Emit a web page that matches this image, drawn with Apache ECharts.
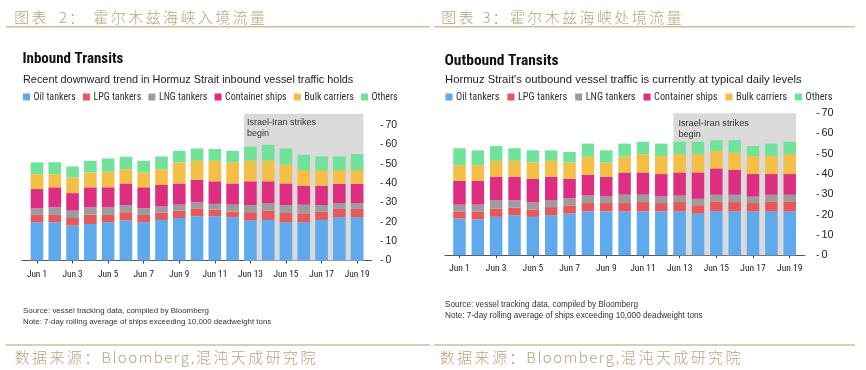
<!DOCTYPE html>
<html><head><meta charset="utf-8">
<script src="https://cdn.jsdelivr.net/npm/echarts@6/dist/echarts.min.js"></script>
<style>html,body{margin:0;padding:0;background:#fff}#c{width:866px;height:370px}</style>
</head><body><div id="c"></div>
<script>
const days = ['Jun 1','Jun 2','Jun 3','Jun 4','Jun 5','Jun 6','Jun 7','Jun 8','Jun 9','Jun 10',
              'Jun 11','Jun 12','Jun 13','Jun 14','Jun 15','Jun 16','Jun 17','Jun 18','Jun 19'];
const seriesNames = ['Oil tankers','LPG tankers','LNG tankers','Container ships','Bulk carriers','Others'];
const yTicks = [0,10,20,30,40,50,60,70];
const inOil       = [19.8,19.8,18.1,18.9,19.8,20.7,19.8,21.0,22.0,22.9,22.9,22.4,20.7,21.0,19.8,19.8,21.0,22.4,22.4];
const inLPG       = [3.8,3.8,3.9,4.9,3.8,4.3,3.8,3.8,3.8,4.1,3.4,2.9,4.3,4.8,4.8,4.6,4.3,4.3,4.3];
const inLNG       = [3.4,3.9,3.8,3.7,3.9,3.7,3.4,3.1,3.1,3.1,3.0,3.6,3.7,3.8,4.1,4.5,3.4,2.9,2.9];
const inContainer = [10.0,10.4,9.1,10.4,10.4,11.2,10.9,11.2,11.0,11.7,11.7,11.0,12.3,11.4,11.2,9.8,10.0,10.0,10.0];
const inBulk      = [7.7,6.8,8.1,7.7,8.1,7.4,7.7,8.2,10.9,9.8,10.6,10.9,10.6,10.6,9.7,8.1,8.1,7.2,7.2];
const inOthers    = [6.1,6.2,5.7,6.0,6.8,6.4,6.0,6.6,6.0,6.4,6.1,6.0,7.4,8.3,8.4,7.9,7.1,7.1,8.3];
const outOil       = [18.0,17.7,18.9,19.7,18.9,19.7,20.5,21.6,21.6,21.6,21.6,21.6,21.6,20.5,21.6,21.6,21.6,21.6,21.6];
const outLPG       = [3.6,3.9,4.0,3.7,3.5,4.0,4.1,4.1,4.1,4.1,4.6,4.1,4.6,4.1,4.9,4.6,4.1,4.9,4.9];
const outLNG       = [3.3,3.3,4.1,3.6,3.6,3.3,3.5,3.7,3.2,4.1,3.6,3.2,3.2,3.2,3.3,3.6,3.2,3.3,3.3];
const outContainer = [11.8,11.8,11.7,11.7,11.6,11.7,9.5,10.3,9.8,11.0,11.0,11.1,11.4,13.0,13.0,12.2,11.1,10.2,10.2];
const outBulk      = [7.7,7.7,7.8,7.8,8.1,7.8,8.1,8.8,7.0,7.8,9.0,8.9,9.0,9.0,8.6,8.6,8.9,8.9,9.8];
const outOthers    = [8.3,7.3,7.3,6.2,6.0,5.2,5.2,6.5,6.0,6.4,6.1,6.1,6.1,6.1,5.3,6.1,4.9,6.1,6.1];
const eventLabel = 'Israel-Iran strikes\nbegin';
const eventStart = 'Jun 13', eventEnd = 'Jun 19';
const headerLeft = '图表   2：  霍尔木兹海峡入境流量';
const headerRight = '图表  3：霍尔木兹海峡处境流量';
const footerText = '数据来源：Bloomberg,混沌天成研究院';
const titleIn = 'Inbound Transits';
const subIn = 'Recent downward trend in Hormuz Strait inbound vessel traffic holds';
const titleOut = 'Outbound Transits';
const subOut = "Hormuz Strait's outbound vessel traffic is currently at typical daily levels";
const noteText = 'Source: vessel tracking data, compiled by Bloomberg\nNote: 7-day rolling average of ships exceeding 10,000 deadweight tons';

const colors = ['#5eaaec','#e6585c','#9c9c9c','#de2e82','#f5be45','#70e29a'];
const ARIAL = "'Liberation Sans',Arial,sans-serif";
const COND = "'Roboto Condensed','Liberation Sans',sans-serif";
const CJK = "'Noto Sans CJK SC'";
const TAN = '#b8a37b';
const LINE_TAN = '#cdbf9d';

function richify(str){
  let out = '';
  for (const ch of str){
    if (ch === ' ') out += '{s| }';
    else if (/[\u3000-\u9fff\uff00-\uffef]/.test(ch)) out += '{c|' + ch + '}';
    else out += '{m|' + ch + '}';
  }
  return out;
}
const richStyles = {
  c: {fontFamily:CJK, fontWeight:300, fontSize:15, color:TAN, padding:[0,1.2,0,1.2], lineHeight:20},
  m: {fontFamily:CJK, fontWeight:300, fontSize:15, color:TAN, padding:[0,0.75,0,0.75], lineHeight:20},
  s: {fontFamily:CJK, fontSize:15, color:TAN, width:3.5, lineHeight:20}
};
const inData = [inOil,inLPG,inLNG,inContainer,inBulk,inOthers];
const outData = [outOil,outLPG,outLNG,outContainer,outBulk,outOthers];

function buildChart(cfg){
  const series = [];
  cfg.data.forEach((arr,i)=>{
    series.push({type:'bar', name:seriesNames[i], stack:cfg.stack, data:arr,
      xAxisIndex:cfg.xCat, yAxisIndex:cfg.yMain, barWidth:(cfg.barRatio*100)+'%',
      itemStyle:{color:colors[i]}, emphasis:{disabled:true}, z:3});
  });
  const half = (1-cfg.barRatio)/2;
  const s = days.indexOf(eventStart) + half;
  const e = days.indexOf(eventEnd) + 1 - half;
  series.push({type:'line', name:'shade-'+cfg.stack, data:[], xAxisIndex:cfg.xVal, yAxisIndex:cfg.yMain,
    silent:true, z:1,
    markArea:{silent:true, itemStyle:{color:'#dadada'},
      label:{show:true, position:'insideTopLeft', distance:cfg.labelDist, color:'#333',
             fontFamily:ARIAL, fontSize:cfg.fs, lineHeight:11},
      data:[[{name:eventLabel, xAxis:s, yAxis:cfg.shadeTop},{xAxis:e, yAxis:0}]]}});
  return series;
}
const chart = echarts.init(document.getElementById('c'), null, {renderer:'canvas'});
function catAxis(g, fs, margin){
  return {type:'category', gridIndex:g, data:days, boundaryGap:true, axisLine:{show:false},
    axisTick:{show:true, alignWithLabel:true, interval:1, length:3, lineStyle:{color:'#444'}},
    axisLabel:{interval:1, fontFamily:COND, fontSize:fs, color:'#222', margin:margin}, splitLine:{show:false}};
}
function valHidden(g){ return {type:'value', gridIndex:g, min:0, max:days.length, show:false}; }
function lineAxis(g){
  return {type:'value', gridIndex:g, min:0, max:1, axisLine:{show:true, lineStyle:{color:'#555', width:1}},
    axisTick:{show:false}, axisLabel:{show:false}, splitLine:{show:false}};
}
function yMain(g, max, offset, fs){
  return {type:'value', gridIndex:g, min:0, max:max, interval:10, position:'right', offset:offset,
    axisLine:{show:false}, axisTick:{show:false}, splitLine:{show:false},
    axisLabel:{margin:0.5, showMaxLabel:true, align:'left',
      formatter:(v)=> yTicks.includes(v) ? '{d|-}{n|' + v + '}' : '',
      rich:{d:{fontFamily:ARIAL, fontSize:fs, color:'#333', padding:[0,2,0,0]},
            n:{fontFamily:ARIAL, fontSize:fs, color:'#222'}}}};
}
function yHidden(g){ return {type:'value', gridIndex:g, min:0, max:1, show:false}; }

const option = {
  animation:false, backgroundColor:'#fff',
  title:[
    {text:richify(headerLeft), left:13, top:7.5, padding:0, textStyle:{rich:richStyles}},
    {text:richify(headerRight), left:440, top:7.5, padding:0, textStyle:{rich:richStyles}},
    {text:richify(footerText), left:13.5, top:347, padding:0, textStyle:{rich:richStyles}},
    {text:richify(footerText), left:438.5, top:347, padding:0, textStyle:{rich:richStyles}},
    {text:titleIn, left:22.5, top:52, padding:0, textStyle:{fontFamily:COND, fontSize:15, fontWeight:'bold', color:'#111'}},
    {text:subIn, left:23, top:74.5, padding:0, textStyle:{fontFamily:ARIAL, fontSize:10.9, fontWeight:'normal', color:'#222'}},
    {text:titleOut, left:444.5, top:53, padding:0, textStyle:{fontFamily:COND, fontSize:15.5, fontWeight:'bold', color:'#111'}},
    {text:subOut, left:445, top:74.5, padding:0, textStyle:{fontFamily:ARIAL, fontSize:11.3, fontWeight:'normal', color:'#222'}},
    {text:noteText, left:23, top:305.5, padding:0, textStyle:{fontFamily:ARIAL, fontSize:7.9, lineHeight:11, fontWeight:'normal', color:'#333'}},
    {text:noteText, left:445, top:298.5, padding:0, textStyle:{fontFamily:ARIAL, fontSize:8.2, lineHeight:11.7, fontWeight:'normal', color:'#333'}}
  ],
  legend:[
    {left:23, top:92, padding:0, itemWidth:7, itemHeight:7, itemGap:7.2, icon:'rect', selectedMode:false,
     data:seriesNames, textStyle:{fontFamily:COND, fontSize:10, color:'#333', padding:[0,0,0,-1.5]}},
    {left:445.5, top:92, padding:0, itemWidth:7, itemHeight:7, itemGap:8, icon:'rect', selectedMode:false,
     data:seriesNames, textStyle:{fontFamily:COND, fontSize:10.3, color:'#333', padding:[0,0,0,-1.5]}}
  ],
  grid:[
    {left:28.1, right:866-366, top:113.7, bottom:109.5},
    {left:21.7, right:866-371.7, top:113.7, bottom:109.5},
    {left:450.3, right:866-798.9, top:113.2, bottom:114.8},
    {left:445, right:866-805, top:113.2, bottom:114.8}
  ],
  xAxis:[catAxis(0, 9.3, 9.5), valHidden(0), lineAxis(1), catAxis(2, 9.5, 8.5), valHidden(2), lineAxis(3)],
  yAxis:[yMain(0, 76, 13.5, 10.5), yHidden(1), yMain(2, 70, 16.5, 10.8), yHidden(3)],
  graphic:[
    {type:'line', shape:{x1:6, y1:26.7, x2:430, y2:26.7}, style:{stroke:LINE_TAN, lineWidth:1.5}},
    {type:'line', shape:{x1:434, y1:26.7, x2:855, y2:26.7}, style:{stroke:LINE_TAN, lineWidth:1.5}},
    {type:'line', shape:{x1:6, y1:345, x2:430, y2:345}, style:{stroke:LINE_TAN, lineWidth:1.5}},
    {type:'line', shape:{x1:434, y1:345, x2:855, y2:345}, style:{stroke:LINE_TAN, lineWidth:1.5}}
  ],
  series:[
    ...buildChart({data:inData, stack:'in', xCat:0, xVal:1, yMain:0, barRatio:0.71, shadeTop:76, fs:9, labelDist:3}),
    ...buildChart({data:outData, stack:'out', xCat:3, xVal:4, yMain:2, barRatio:0.68, shadeTop:70, fs:9.2, labelDist:5})
  ]
};
chart.setOption(option);
</script></body></html>
